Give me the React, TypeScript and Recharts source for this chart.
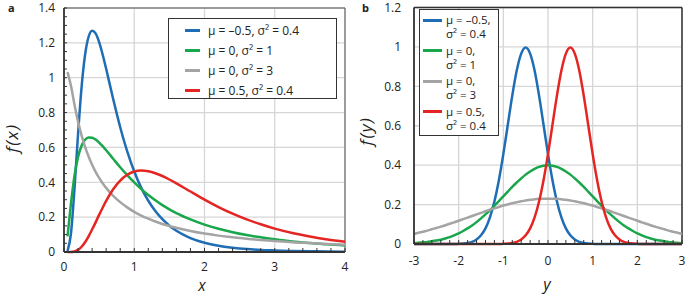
import React from 'react';
import { LineChart, Line, XAxis, YAxis, CartesianGrid, ReferenceLine, Legend } from 'recharts';

// panel a: log-normal densities
const xA = [0.05, 0.1, 0.15, 0.2, 0.25, 0.3, 0.35, 0.4, 0.45, 0.5, 0.55, 0.6, 0.7, 0.8, 0.9, 1, 1.1, 1.2, 1.3, 1.4, 1.5, 1.6, 1.8, 2, 2.2, 2.4, 2.6, 2.8, 3, 3.25, 3.5, 3.75, 4];
const blueA = [0.005, 0.109, 0.367, 0.677, 0.945, 1.132, 1.235, 1.27, 1.254, 1.204, 1.133, 1.051, 0.878, 0.716, 0.577, 0.462, 0.368, 0.294, 0.235, 0.188, 0.151, 0.122, 0.08, 0.053, 0.036, 0.025, 0.017, 0.012, 0.009, 0.006, 0.004, 0.003, 0.002];
const greenA = [0.09, 0.282, 0.44, 0.546, 0.61, 0.644, 0.657, 0.656, 0.645, 0.628, 0.607, 0.584, 0.535, 0.486, 0.441, 0.399, 0.361, 0.327, 0.297, 0.269, 0.245, 0.223, 0.187, 0.157, 0.133, 0.113, 0.097, 0.084, 0.073, 0.061, 0.052, 0.044, 0.038];
const grayA = [1.032, 0.952, 0.843, 0.748, 0.669, 0.603, 0.548, 0.501, 0.46, 0.425, 0.395, 0.368, 0.322, 0.286, 0.256, 0.23, 0.209, 0.191, 0.175, 0.161, 0.149, 0.139, 0.121, 0.106, 0.094, 0.085, 0.076, 0.069, 0.063, 0.056, 0.051, 0.046, 0.042];
const redA = [0, 0, 0.003, 0.012, 0.03, 0.056, 0.09, 0.129, 0.17, 0.213, 0.254, 0.293, 0.36, 0.41, 0.443, 0.462, 0.467, 0.463, 0.452, 0.436, 0.416, 0.394, 0.347, 0.301, 0.258, 0.22, 0.187, 0.159, 0.134, 0.109, 0.089, 0.072, 0.059];

// panel b: normal densities
const xB = [-3, -2.9, -2.8, -2.7, -2.6, -2.5, -2.4, -2.3, -2.2, -2.1, -2, -1.9, -1.8, -1.7, -1.6, -1.5, -1.4, -1.3, -1.2, -1.1, -1, -0.9, -0.8, -0.7, -0.6, -0.5, -0.4, -0.3, -0.2, -0.1, 0, 0.1, 0.2, 0.3, 0.4, 0.5, 0.6, 0.7, 0.8, 0.9, 1, 1.1, 1.2, 1.3, 1.4, 1.5, 1.6, 1.7, 1.8, 1.9, 2, 2.1, 2.2, 2.3, 2.4, 2.5, 2.6, 2.7, 2.8, 2.9, 3];
const blueB = [0, 0, 0, 0, 0, 0, 0, 0, 0, 0, 0.001, 0.002, 0.005, 0.011, 0.023, 0.044, 0.079, 0.135, 0.216, 0.324, 0.456, 0.605, 0.753, 0.88, 0.966, 0.997, 0.966, 0.88, 0.753, 0.605, 0.456, 0.324, 0.216, 0.135, 0.079, 0.044, 0.023, 0.011, 0.005, 0.002, 0.001, 0, 0, 0, 0, 0, 0, 0, 0, 0, 0, 0, 0, 0, 0, 0, 0, 0, 0, 0, 0];
const greenB = [0.004, 0.006, 0.008, 0.01, 0.014, 0.018, 0.022, 0.028, 0.035, 0.044, 0.054, 0.066, 0.079, 0.094, 0.111, 0.13, 0.15, 0.171, 0.194, 0.218, 0.242, 0.266, 0.29, 0.312, 0.333, 0.352, 0.368, 0.381, 0.391, 0.397, 0.399, 0.397, 0.391, 0.381, 0.368, 0.352, 0.333, 0.312, 0.29, 0.266, 0.242, 0.218, 0.194, 0.171, 0.15, 0.13, 0.111, 0.094, 0.079, 0.066, 0.054, 0.044, 0.035, 0.028, 0.022, 0.018, 0.014, 0.01, 0.008, 0.006, 0.004];
const grayB = [0.051, 0.057, 0.062, 0.068, 0.075, 0.081, 0.088, 0.095, 0.103, 0.11, 0.118, 0.126, 0.134, 0.142, 0.15, 0.158, 0.166, 0.174, 0.181, 0.188, 0.195, 0.201, 0.207, 0.212, 0.217, 0.221, 0.224, 0.227, 0.229, 0.23, 0.23, 0.23, 0.229, 0.227, 0.224, 0.221, 0.217, 0.212, 0.207, 0.201, 0.195, 0.188, 0.181, 0.174, 0.166, 0.158, 0.15, 0.142, 0.134, 0.126, 0.118, 0.11, 0.103, 0.095, 0.088, 0.081, 0.075, 0.068, 0.062, 0.057, 0.051];
const redB = [0, 0, 0, 0, 0, 0, 0, 0, 0, 0, 0, 0, 0, 0, 0, 0, 0, 0, 0, 0, 0.001, 0.002, 0.005, 0.011, 0.023, 0.044, 0.079, 0.135, 0.216, 0.324, 0.456, 0.605, 0.753, 0.88, 0.966, 0.997, 0.966, 0.88, 0.753, 0.605, 0.456, 0.324, 0.216, 0.135, 0.079, 0.044, 0.023, 0.011, 0.005, 0.002, 0.001, 0, 0, 0, 0, 0, 0, 0, 0, 0, 0];

// ticks (major ones get labels and grid lines, minor ones only a small inward mark)
const ticksXA = [0, 1, 2, 3, 4];
const ticksYA = [0, 0.2, 0.4, 0.6, 0.8, 1, 1.2, 1.4];
const minorXA = [0.2, 0.4, 0.6, 0.8, 1.2, 1.4, 1.6, 1.8, 2.2, 2.4, 2.6, 2.8, 3.2, 3.4, 3.6, 3.8];
const minorYA = [0.05, 0.1, 0.15, 0.25, 0.3, 0.35, 0.45, 0.5, 0.55, 0.65, 0.7, 0.75, 0.85, 0.9, 0.95, 1.05, 1.1, 1.15, 1.25, 1.3, 1.35];
const ticksXB = [-3, -2, -1, 0, 1, 2, 3];
const ticksYB = [0, 0.2, 0.4, 0.6, 0.8, 1, 1.2];
const minorXB = [-2.8, -2.6, -2.4, -2.2, -1.8, -1.6, -1.4, -1.2, -0.8, -0.6, -0.4, -0.2, 0.2, 0.4, 0.6, 0.8, 1.2, 1.4, 1.6, 1.8, 2.2, 2.4, 2.6, 2.8];

const seriesKeys = ['blue', 'green', 'gray', 'red'];
const seriesColors = ['#1f6db4', '#1aa64b', '#a4a4a4', '#e42522'];
const legendA = ['μ = –0.5, σ² = 0.4', 'μ = 0, σ² = 1', 'μ = 0, σ² = 3', 'μ = 0.5, σ² = 0.4'];
const legendB = [
  ['μ = –0.5,', 'σ² = 0.4'],
  ['μ = 0,', 'σ² = 1'],
  ['μ = 0,', 'σ² = 3'],
  ['μ = 0.5,', 'σ² = 0.4'],
];

const dataA = xA.map((x, i) => ({ x, blue: blueA[i], green: greenA[i], gray: grayA[i], red: redA[i] }));
const dataB = xB.map((x, i) => ({ x, blue: blueB[i], green: greenB[i], gray: grayB[i], red: redB[i] }));

const byValue = (a: number, b: number) => a - b;
const allXA = [...ticksXA, ...minorXA].sort(byValue);
const allYA = [...ticksYA, ...minorYA].sort(byValue);
const allXB = [...ticksXB, ...minorXB].sort(byValue);

const font = "'Open Sans', 'DejaVu Sans', sans-serif";
const axisLine = { stroke: '#333', strokeWidth: 1.8 };

// bottom tick: small mark pointing up into the plot, label only on major values
const bottomTick = (major: number[], gap: number) => (props: any) => {
  const { x, y, payload } = props;
  const v = payload.value;
  return (
    <g>
      <line x1={x} x2={x} y1={y} y2={y - 4} stroke="#333" strokeWidth={1} />
      {major.includes(v) && (
        <text x={x} y={y + gap} textAnchor="middle" fontSize={12} fill="#222" fontFamily={font}>{String(v)}</text>
      )}
    </g>
  );
};

// left tick: optional inward mark, label only on major values
const leftTick = (major: number[], gap: number, mark: boolean) => (props: any) => {
  const { x, y, payload } = props;
  const v = payload.value;
  return (
    <g>
      {mark && <line x1={x} x2={x + 3} y1={y} y2={y} stroke="#333" strokeWidth={1} />}
      {major.includes(v) && (
        <text x={x - gap} y={y + 4.3} textAnchor="end" fontSize={12} fill="#222" fontFamily={font}>{String(v)}</text>
      )}
    </g>
  );
};

const LegendBoxA = () => (
  <div style={{ width: 167, height: 79, border: '1px solid #333', background: '#fff', fontFamily: font, fontSize: 12, color: '#222' }}>
    {legendA.map((t, i) => (
      <div key={i} style={{ display: 'flex', alignItems: 'center', height: 20, marginTop: i === 0 ? 1 : 0, whiteSpace: 'nowrap' }}>
        <span style={{ display: 'inline-block', width: 15, height: 3, background: seriesColors[i], marginLeft: 16, marginRight: 8 }} />
        <span>{t}</span>
      </div>
    ))}
  </div>
);

const LegendBoxB = () => (
  <div style={{ width: 78, height: 122, border: '1px solid #333', background: '#fff', fontFamily: font, fontSize: 11.5, color: '#222', paddingTop: 3, boxSizing: 'content-box' }}>
    {legendB.map((t, i) => (
      <div key={i} style={{ position: 'relative', height: 30.5, lineHeight: '14px', whiteSpace: 'nowrap' }}>
        <span style={{ position: 'absolute', left: 3, top: 5.5, width: 19, height: 3, background: seriesColors[i] }} />
        <div style={{ paddingLeft: 26 }}>{t[0]}</div>
        <div style={{ paddingLeft: 26 }}>{t[1]}</div>
      </div>
    ))}
  </div>
);

export default function App() {
  return (
    <div style={{ position: 'absolute', left: 0, top: 0, width: 685, height: 296, background: '#fff', fontFamily: font }}>
      <div style={{ position: 'absolute', left: 0, top: 0 }}>
        <LineChart width={350} height={296} data={dataA} margin={{ top: 8, right: 5, bottom: 0, left: 0 }}>
          <CartesianGrid stroke="#d6d6d6" strokeWidth={1.3} verticalValues={ticksXA} horizontalValues={ticksYA} />
          <XAxis dataKey="x" type="number" domain={[0, 4]} ticks={allXA} interval={0} height={44} axisLine={axisLine} tickLine={false} tickSize={0} tickMargin={0} tick={bottomTick(ticksXA, 18.5)} />
          <YAxis type="number" domain={[0, 1.4]} ticks={allYA} interval={0} width={64} axisLine={axisLine} tickLine={false} tickSize={0} tickMargin={0} tick={leftTick(ticksYA, 9, true)} />
          <ReferenceLine y={1.4} stroke="#555" strokeWidth={1} />
          <ReferenceLine x={4} stroke="#555" strokeWidth={1} />
          {seriesKeys.map((k, i) => (
            <Line key={k} dataKey={k} type="monotone" stroke={seriesColors[i]} strokeWidth={2.5} dot={false} isAnimationActive={false} />
          ))}
          <Legend layout="horizontal" verticalAlign="middle" align="center" content={LegendBoxA} wrapperStyle={{ left: 168, top: 18, width: 'auto' }} />
        </LineChart>
      </div>
      <div style={{ position: 'absolute', left: 355, top: 0 }}>
        <LineChart width={330} height={296} data={dataB} margin={{ top: 7.5, right: 3, bottom: 0, left: 0 }}>
          <CartesianGrid stroke="#d6d6d6" strokeWidth={1.3} verticalValues={ticksXB} horizontalValues={ticksYB} />
          <XAxis dataKey="x" type="number" domain={[-3, 3]} ticks={allXB} interval={0} height={52} axisLine={axisLine} tickLine={false} tickSize={0} tickMargin={0} tick={bottomTick(ticksXB, 20.5)} />
          <YAxis type="number" domain={[0, 1.2]} ticks={ticksYB} interval={0} width={59} axisLine={axisLine} tickLine={false} tickSize={0} tickMargin={0} tick={leftTick(ticksYB, 13, false)} />
          <ReferenceLine y={1.2} stroke="#333" strokeWidth={1.5} />
          <ReferenceLine x={3} stroke="#333" strokeWidth={1.5} />
          {seriesKeys.map((k, i) => (
            <Line key={k} dataKey={k} type="monotone" stroke={seriesColors[i]} strokeWidth={2.5} dot={false} isAnimationActive={false} />
          ))}
          <Legend layout="horizontal" verticalAlign="middle" align="center" content={LegendBoxB} wrapperStyle={{ left: 64, top: 9, width: 'auto' }} />
        </LineChart>
      </div>
      <svg width={685} height={296} style={{ position: 'absolute', left: 0, top: 0, pointerEvents: 'none' }}>
        <text x={8} y={12} fontSize={11} fontWeight="bold" fill="#222" fontFamily={font}>a</text>
        <text x={362} y={12} fontSize={11} fontWeight="bold" fill="#222" fontFamily={font}>b</text>
        <text transform="translate(18,138) rotate(-90)" textAnchor="middle" fontSize={17} fontStyle="italic" letterSpacing={1.5} fill="#222" fontFamily={font}>f(x)</text>
        <text transform="translate(372,131) rotate(-90)" textAnchor="middle" fontSize={17} fontStyle="italic" letterSpacing={1.5} fill="#222" fontFamily={font}>f(y)</text>
        <text x={202} y={291} textAnchor="middle" fontSize={15.5} fontStyle="italic" fill="#222" fontFamily={font}>x</text>
        <text x={547} y={290} textAnchor="middle" fontSize={16} fontStyle="italic" fill="#222" fontFamily={font}>y</text>
      </svg>
    </div>
  );
}
